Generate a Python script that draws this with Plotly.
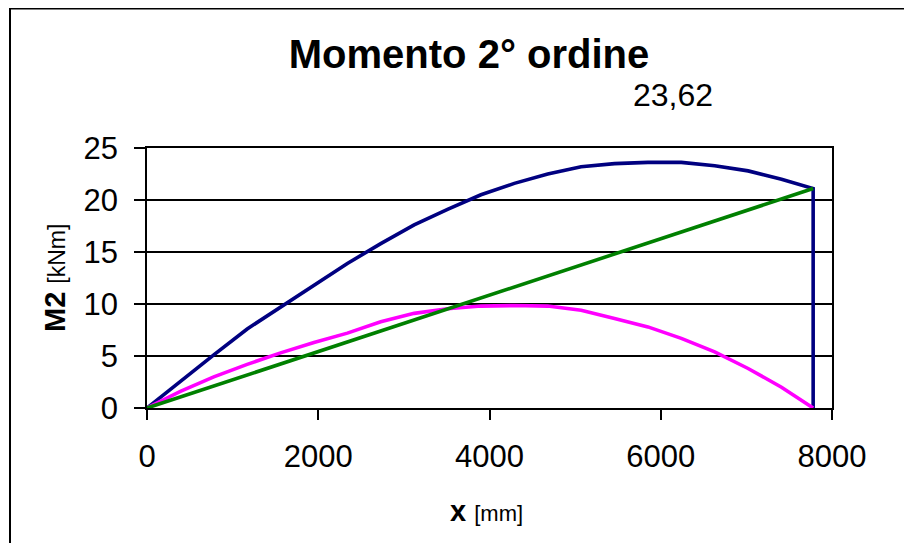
import plotly.graph_objects as go

# Data
x_mm = [0, 390, 780, 1170, 1560, 1950, 2340, 2730, 3120, 3510, 3900,
        4290, 4680, 5070, 5460, 5850, 6240, 6630, 7020, 7410, 7780]

m2_total = [0, 2.6, 5.1, 7.6, 9.7, 11.8, 13.9, 15.8, 17.6, 19.1, 20.5,
            21.6, 22.5, 23.2, 23.5, 23.62, 23.62, 23.3, 22.8, 22.0, 21.1]
# closing vertical drop at the end of the beam
x_total_end = [7780]
m2_total_end = [0]

m2_parab = [0, 1.6, 3.0, 4.2, 5.3, 6.3, 7.2, 8.3, 9.1, 9.55, 9.8,
            9.85, 9.8, 9.4, 8.6, 7.8, 6.7, 5.4, 3.8, 2.0, 0]

m2_linear = [0, 1.06, 2.1, 3.2, 4.2, 5.3, 6.4, 7.4, 8.5, 9.5, 10.6,
             11.7, 12.7, 13.8, 14.8, 15.9, 17.0, 18.0, 19.1, 20.1, 21.1]

x_ticks = [0, 2000, 4000, 6000, 8000]
y_ticks = [0, 5, 10, 15, 20, 25]
max_label = "23,62"

FONT = "Arial, Liberation Sans, sans-serif"

# the page has an 8px body margin: figure origin is at page (8, 8)
L, T, W_PLOT, H_PLOT = 139, 140, 685, 260


def px_x(page_x):
    return (page_x - 8 - L) / W_PLOT


def px_y(page_y):
    return (T + H_PLOT - (page_y - 8)) / H_PLOT


fig = go.Figure()
fig.add_trace(go.Scatter(x=x_mm + x_total_end, y=m2_total + m2_total_end,
                         mode="lines", line=dict(color="#000080", width=3.6),
                         showlegend=False))
fig.add_trace(go.Scatter(x=x_mm, y=m2_parab, mode="lines",
                         line=dict(color="#FF00FF", width=3.6), showlegend=False))
fig.add_trace(go.Scatter(x=x_mm, y=m2_linear, mode="lines",
                         line=dict(color="#008000", width=3.6), showlegend=False))

fig.update_layout(
    width=912, height=543,
    margin=dict(l=L, r=912 - L - W_PLOT, t=T, b=543 - T - H_PLOT),
    paper_bgcolor="white", plot_bgcolor="white",
    font=dict(family=FONT, color="black"),
    title=dict(text="<b>Momento 2° ordine</b>", x=461 / 912, xanchor="center",
               y=1 - 46 / 543, yanchor="middle",
               font=dict(size=40, family=FONT, color="black")),
    xaxis=dict(range=[0, 8000], tickvals=x_ticks, ticks="outside", ticklen=10,
               tickwidth=1.5, tickcolor="black", showline=True, linecolor="black",
               linewidth=1.5, mirror=True, showgrid=False, zeroline=False,
               tickfont=dict(size=31, family=FONT), ticklabelstandoff=10),
    yaxis=dict(range=[0, 25], tickvals=y_ticks, ticks="outside", ticklen=11,
               tickwidth=1.5, tickcolor="black", showline=True, linecolor="black",
               linewidth=1.5, mirror=True, showgrid=True, gridcolor="black",
               gridwidth=1.5, zeroline=False,
               tickfont=dict(size=31, family=FONT), ticklabelstandoff=10),
    annotations=[
        dict(text=max_label, xref="paper", yref="paper",
             x=px_x(673), y=px_y(95), showarrow=False,
             xanchor="center", yanchor="middle", font=dict(size=32, family=FONT)),
        dict(text="<b>x</b> <span style='font-size:22px'>[mm]</span>",
             xref="paper", yref="paper", x=px_x(486),
             y=px_y(511), showarrow=False, xanchor="center",
             yanchor="middle", font=dict(size=29, family=FONT)),
        dict(text="<b>M2</b> <span style='font-size:23px'>[kNm]</span>",
             xref="paper", yref="paper", x=px_x(55),
             y=px_y(278), showarrow=False, textangle=-90,
             xanchor="center", yanchor="middle", font=dict(size=29, family=FONT)),
    ],
    shapes=[dict(type="rect", xref="paper", yref="paper",
                 x0=px_x(10), x1=px_x(930),
                 y0=px_y(570), y1=px_y(8.5),
                 line=dict(color="black", width=2), layer="below")],
)

fig.write_html("out.html")
